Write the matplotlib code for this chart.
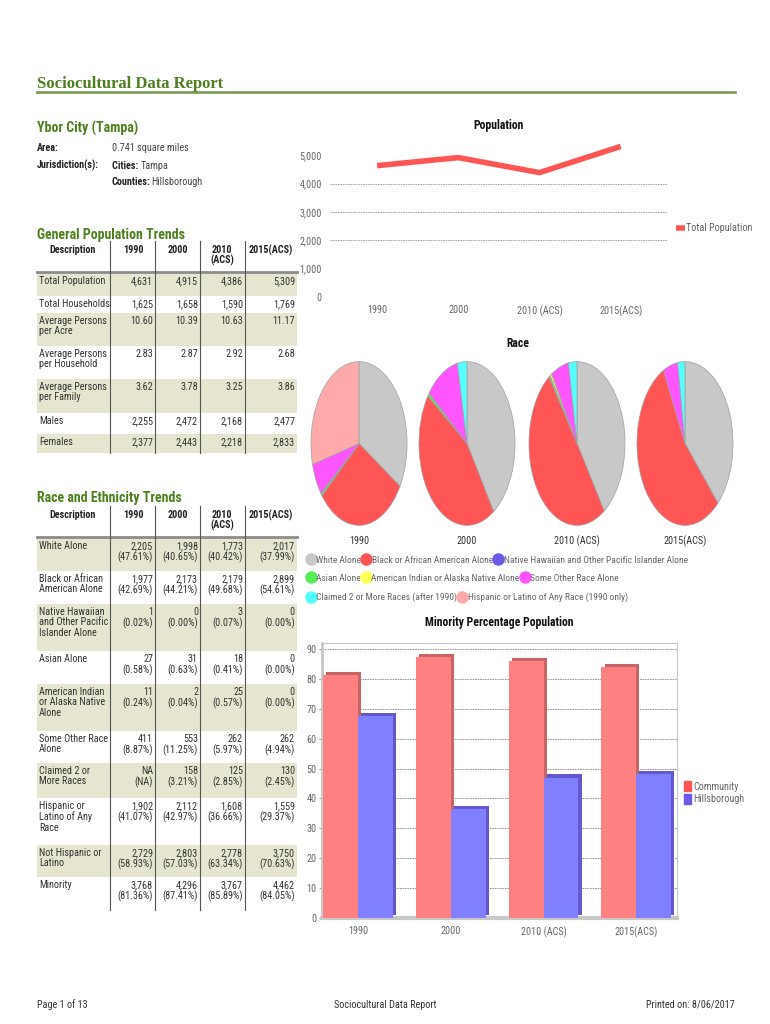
import matplotlib.pyplot as plt
import matplotlib.patheffects as pe
from matplotlib import font_manager
from matplotlib.lines import Line2D
from matplotlib.patches import Patch

W, H = 770, 1024
GREEN = '#4d7f1d'
SHADE = '#e6e6d0'
GREY_TXT = '#666666'

installed = {f.name for f in font_manager.fontManager.ttflist}
NARROW = 'DejaVu Sans'
for cand in ['Roboto Condensed', 'Liberation Sans Narrow', 'Open Sans Condensed', 'Roboto', 'Liberation Sans']:
    if cand in installed:
        NARROW = cand
        break

# ---- data ----
years = ['1990', '2000', '2010 (ACS)', '2015(ACS)']
table_years = ['1990', '2000', '2010\n(ACS)', '2015(ACS)']

total_pop = [4631, 4915, 4386, 5309]
gen_rows = ['Total Population', 'Total Households', 'Average Persons\nper Acre',
            'Average Persons\nper Household', 'Average Persons\nper Family', 'Males', 'Females']
gen_1990 = ['4,631', '1,625', '10.60', '2.83', '3.62', '2,255', '2,377']
gen_2000 = ['4,915', '1,658', '10.39', '2.87', '3.78', '2,472', '2,443']
gen_2010 = ['4,386', '1,590', '10.63', '2.92', '3.25', '2,168', '2,218']
gen_2015 = ['5,309', '1,769', '11.17', '2.68', '3.86', '2,477', '2,833']

race_rows = ['White Alone', 'Black or African\nAmerican Alone', 'Native Hawaiian\nand Other Pacific\nIslander Alone',
             'Asian Alone', 'American Indian\nor Alaska Native\nAlone', 'Some Other Race\nAlone',
             'Claimed 2 or\nMore Races', 'Hispanic or\nLatino of Any\nRace', 'Not Hispanic or\nLatino', 'Minority']
race_1990 = ['2,205\n(47.61%)', '1,977\n(42.69%)', '1\n(0.02%)', '27\n(0.58%)', '11\n(0.24%)',
             '411\n(8.87%)', 'NA\n(NA)', '1,902\n(41.07%)', '2,729\n(58.93%)', '3,768\n(81.36%)']
race_2000 = ['1,998\n(40.65%)', '2,173\n(44.21%)', '0\n(0.00%)', '31\n(0.63%)', '2\n(0.04%)',
             '553\n(11.25%)', '158\n(3.21%)', '2,112\n(42.97%)', '2,803\n(57.03%)', '4,296\n(87.41%)']
race_2010 = ['1,773\n(40.42%)', '2,179\n(49.68%)', '3\n(0.07%)', '18\n(0.41%)', '25\n(0.57%)',
             '262\n(5.97%)', '125\n(2.85%)', '1,608\n(36.66%)', '2,778\n(63.34%)', '3,767\n(85.89%)']
race_2015 = ['2,017\n(37.99%)', '2,899\n(54.61%)', '0\n(0.00%)', '0\n(0.00%)', '0\n(0.00%)',
             '262\n(4.94%)', '130\n(2.45%)', '1,559\n(29.37%)', '3,750\n(70.63%)', '4,462\n(84.05%)']

pie_labels = ['White Alone', 'Black or African American Alone', 'Native Hawaiian and Other Pacific Islander Alone',
              'Asian Alone', 'American Indian or Alaska Native Alone', 'Some Other Race Alone',
              'Claimed 2 or More Races (after 1990)', 'Hispanic or Latino of Any Race (1990 only)']
pie_colors = ['#c8c8c8', '#ff5555', '#6a5ae6', '#55ee55', '#ffff55', '#ff55ff', '#55ffff', '#ffaaaa']
pie_1990 = [2205, 1977, 1, 27, 11, 411, 0, 1902]
pie_2000 = [1998, 2173, 0, 31, 2, 553, 158, 0]
pie_2010 = [1773, 2179, 3, 18, 25, 262, 125, 0]
pie_2015 = [2017, 2899, 0, 0, 0, 262, 130, 0]

minority_community = [81.36, 87.41, 85.89, 84.05]
minority_hillsborough = [67.5, 36.3, 47.0, 48.2]


def box(l, t, r, b):
    return [l / W, 1 - b / H, (r - l) / W, (b - t) / H]


fig = plt.figure(figsize=(7.7, 10.24), dpi=100)
page = fig.add_axes([0, 0, 1, 1])
page.set_xlim(0, W)
page.set_ylim(H, 0)
page.axis('off')

TS = 7.3  # table font size

# ---- header ----
page.text(37, 88, 'Sociocultural Data Report', family='Liberation Serif', weight='bold',
          fontsize=12, color=GREEN, va='baseline')
page.plot([37, 735], [92, 92], color='#7fa05a', lw=2)
page.text(37, 133, 'Ybor City (Tampa)', family=NARROW, weight='bold', fontsize=10, color=GREEN, va='baseline')
page.text(37, 151, 'Area:', family=NARROW, weight='bold', fontsize=TS, color='#222', va='baseline')
page.text(112, 151, '0.741 square miles', family=NARROW, fontsize=TS, color='#444', va='baseline')
page.text(37, 169, 'Jurisdiction(s):', family=NARROW, weight='bold', fontsize=TS, color='#222', va='baseline')
t = page.text(112, 169, 'Cities: ', family=NARROW, weight='bold', fontsize=TS, color='#222', va='baseline')
page.annotate('Tampa', xycoords=t, xy=(1, 0), va='bottom', family=NARROW, fontsize=TS, color='#444')
t = page.text(112, 185, 'Counties:', family=NARROW, weight='bold', fontsize=TS, color='#222', va='baseline')
page.annotate('Hillsborough', xycoords=t, xy=(1, 0), va='bottom', family=NARROW, fontsize=TS, color='#444')

col_lines = [110, 155, 200, 245]
col_right = [153, 198, 243, 295]
head_x = [73, 133, 178, 222, 271]


def draw_table(head_y, line_y, tops, bottom, rows, cols):
    page.text(head_x[0], head_y, 'Description', family=NARROW, weight='bold', fontsize=TS,
              ha='center', va='top', color='#222')
    for hx, lab in zip(head_x[1:], table_years):
        page.text(hx, head_y, lab, family=NARROW, weight='bold', fontsize=TS, ha='center',
                  va='top', color='#222', linespacing=0.95)
    edges = list(tops) + [bottom]
    for i in range(len(rows)):
        if i % 2 == 0:
            page.fill_between([37, 297], edges[i], edges[i + 1], color=SHADE, lw=0)
        page.text(39, edges[i] + 3, rows[i], family=NARROW, fontsize=TS, va='top',
                  color='#333', linespacing=1.05)
        for c, vals in enumerate(cols):
            page.text(col_right[c], edges[i] + 3, vals[i], family=NARROW, fontsize=TS,
                      va='top', ha='right', color='#333', linespacing=1.05)
    page.plot([37, 297], [line_y, line_y], color='#8c8c8c', lw=2)
    for x in col_lines:
        page.plot([x, x], [head_y - 4, bottom], color='#555', lw=0.8)


page.text(37, 239, 'General Population Trends', family=NARROW, weight='bold', fontsize=10,
          color=GREEN, va='baseline')
draw_table(245, 272, [273, 296, 313, 346, 379, 413, 434], 453, gen_rows,
           [gen_1990, gen_2000, gen_2010, gen_2015])

page.text(37, 502, 'Race and Ethnicity Trends', family=NARROW, weight='bold', fontsize=10,
          color=GREEN, va='baseline')
draw_table(510, 537, [538, 571, 604, 651, 684, 731, 763, 798, 845, 877], 910, race_rows,
           [race_1990, race_2000, race_2010, race_2015])

# ---- population line chart ----
ax = fig.add_axes(box(330, 141, 667, 297))
ax.plot(range(4), total_pop, color='#ff5555', lw=4, solid_capstyle='butt', label='Total Population')
for v in [2000, 3000, 4000]:
    ax.axhline(v, color='#999', lw=0.6, ls=(0, (2, 1)), zorder=0)
ax.set_xlim(-0.58, 3.57)
ax.set_ylim(0, 5500)
ax.set_yticks([0, 1000, 2000, 3000, 4000, 5000])
ax.set_yticklabels(['0', '1,000', '2,000', '3,000', '4,000', '5,000'])
ax.set_xticks(range(4))
ax.set_xticklabels(years)
ax.tick_params(length=0, labelsize=TS, labelcolor=GREY_TXT, pad=6)
for lab in ax.get_xticklabels() + ax.get_yticklabels():
    lab.set_family(NARROW)
for s in ax.spines.values():
    s.set_visible(False)
ax.set_title('Population', family=NARROW, weight='bold', fontsize=8.5, pad=9, color='#111')
ax.legend(loc='center left', bbox_to_anchor=(1.0, 0.44), frameon=False,
          handlelength=0.9, handletextpad=0.1, labelcolor=GREY_TXT, prop=dict(family=NARROW, size=TS))

# ---- race pies ----
page.text(518, 347, 'Race', family=NARROW, weight='bold', fontsize=8.5, ha='center', color='#111')
pie_sets = [pie_1990, pie_2000, pie_2010, pie_2015]
pie_cx = [359, 467, 577, 685]
for cx, vals, lab in zip(pie_cx, pie_sets, years):
    pax = fig.add_axes(box(cx - 49, 360, cx + 49, 527))
    keep = [i for i, v in enumerate(vals) if v > 0]
    pax.pie([vals[i] for i in keep], colors=[pie_colors[i] for i in keep], startangle=90,
            counterclock=False, wedgeprops=dict(edgecolor='#a0a0a0', lw=0.5))
    pax.set_aspect('auto')
    pax.set_xlim(-1.02, 1.02)
    pax.set_ylim(-1.02, 1.02)
    page.text(cx, 544, lab, fontsize=TS, ha='center', color='#333', family=NARROW)

legend_rows = [[0, 1, 2], [3, 4, 5], [6, 7]]
legend_y = [551, 569, 588]
for idxs, ly in zip(legend_rows, legend_y):
    handles = [Line2D([], [], marker='o', ls='none', markersize=8, markerfacecolor=pie_colors[i],
                      markeredgecolor=pie_colors[i]) for i in idxs]
    fig.legend(handles, [pie_labels[i] for i in idxs], loc='upper left',
               bbox_to_anchor=(302 / W, 1 - ly / H), ncol=len(idxs), frameon=False,
               handlelength=0.8, handletextpad=0.15, columnspacing=0.2, borderpad=0,
               labelcolor=GREY_TXT, prop=dict(family=NARROW, size=6.8))

# ---- minority bar chart ----
bx = fig.add_axes(box(322, 643, 677, 918))
xs = list(range(4))
bw = 0.376
b1 = bx.bar([x - bw / 2 for x in xs], minority_community, width=bw, color='#ff8080', zorder=3,
            label='Community')
b2 = bx.bar([x + bw / 2 for x in xs], minority_hillsborough, width=bw, color='#8080ff', zorder=3,
            label='Hillsborough')
for bar in b1:
    bar.set_path_effects([pe.SimplePatchShadow(offset=(2.3, 2.3), shadow_rgbFace='#c86464', alpha=1),
                          pe.Normal()])
for bar in b2:
    bar.set_path_effects([pe.SimplePatchShadow(offset=(2.3, 2.3), shadow_rgbFace='#6458d0', alpha=1),
                          pe.Normal()])
bx.set_xlim(-0.39, 3.44)
bx.set_ylim(0, 92)
bx.set_yticks(range(0, 91, 10))
bx.yaxis.grid(True, color='#888', lw=0.6, ls=(0, (2, 1)), zorder=0)
bx.set_axisbelow(True)
bx.set_xticks(xs)
bx.set_xticklabels(years)
bx.tick_params(axis='x', length=0, labelsize=TS, labelcolor=GREY_TXT, pad=6)
bx.tick_params(axis='y', length=2, labelsize=TS, labelcolor=GREY_TXT, color='#999', pad=2)
for lab in bx.get_xticklabels() + bx.get_yticklabels():
    lab.set_family(NARROW)
for s in bx.spines.values():
    s.set_color('#c8c8c8')
bx.spines['bottom'].set_linewidth(3)
bx.spines['left'].set_linewidth(2)
bx.set_title('Minority Percentage Population', family=NARROW, weight='bold', fontsize=8.5,
             pad=12, color='#111')
fig.legend([Patch(color='#ff5555'), Patch(color='#6a5ae6')], ['Community', 'Hillsborough'],
           loc='upper left', bbox_to_anchor=(679 / W, 1 - 776 / H), frameon=False,
           handlelength=0.7, handleheight=1.2, handletextpad=0.2, labelspacing=0.2, borderpad=0,
           labelcolor=GREY_TXT, prop=dict(family=NARROW, size=TS))

# ---- footer ----
page.text(37, 1008, 'Page 1 of 13', family=NARROW, fontsize=TS, color='#333', va='baseline')
page.text(385, 1008, 'Sociocultural Data Report', family=NARROW, fontsize=TS, color='#333',
          ha='center', va='baseline')
page.text(735, 1008, 'Printed on: 8/06/2017', family=NARROW, fontsize=TS, color='#333',
          ha='right', va='baseline')

fig.savefig('out.png', dpi=100)
